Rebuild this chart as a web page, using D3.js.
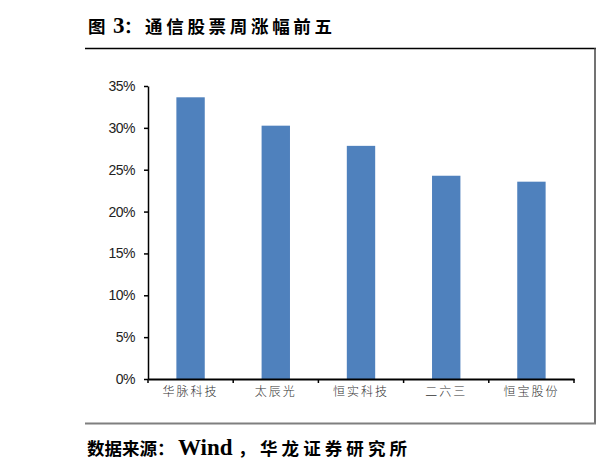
<!DOCTYPE html>
<html><head><meta charset="utf-8">
<script src="https://cdn.jsdelivr.net/npm/d3@7"></script>
<style>html,body{margin:0;padding:0;background:#fff;overflow:hidden}</style>
</head><body>
<svg id="c" width="599" height="472"></svg>
<script>
const categories = ["华脉科技", "太辰光", "恒实科技", "二六三", "恒宝股份"];
const values = [33.65, 30.26, 27.85, 24.28, 23.57];
const yTicks = [0, 5, 10, 15, 20, 25, 30, 35];
const titleParts = [["图", 88, 0], ["3", 113, 0], ["：", 124, 0], ["通信股票周涨幅前五", 145, 187]];
const sourceParts = [["数据来源：", 87, 0], ["Wind", 178, 0], ["，", 238, 0], ["华龙证券研究所", 260, 147]];

const svg = d3.select("#c");
const plot = {left: 148, right: 574, top: 86, bottom: 379};

// frame
svg.append("line").attr("x1", 85).attr("x2", 596).attr("y1", 48.5).attr("y2", 48.5)
  .attr("stroke", "#000").attr("stroke-width", 1.5);
svg.append("line").attr("x1", 595).attr("x2", 595).attr("y1", 48).attr("y2", 424)
  .attr("stroke", "#444").attr("stroke-width", 1.5);
svg.append("line").attr("x1", 85).attr("x2", 596).attr("y1", 423.5).attr("y2", 423.5)
  .attr("stroke", "#7f7f7f").attr("stroke-width", 2);

function richText(parts, yPos) {
  const t = svg.append("text").attr("y", yPos).attr("font-weight", "bold").attr("fill", "#000");
  parts.forEach(([s, xPos, len]) => {
    const latin = /^[A-Za-z0-9]+$/.test(s);
    const ts = t.append("tspan").attr("x", xPos).text(s)
      .attr("font-family", latin ? "'Liberation Serif', serif" : "'Noto Sans CJK SC', sans-serif")
      .attr("font-size", latin ? 23 : 17.5);
    if (len) ts.attr("textLength", len).attr("lengthAdjust", "spacing");
  });
}
richText(titleParts, 33);
richText(sourceParts, 455);

const x = d3.scaleBand().domain(categories).range([plot.left, plot.right]).paddingInner(0.667).paddingOuter(0.333);
const y = d3.scaleLinear().domain([0, 35]).range([plot.bottom, plot.top]);

svg.append("g").selectAll("rect").data(values).join("rect")
  .attr("x", (d, i) => x(categories[i]))
  .attr("width", x.bandwidth())
  .attr("y", d => y(d))
  .attr("height", d => y(0) - y(d))
  .attr("fill", "#4F81BD");

// y axis
const ya = svg.append("g").attr("transform", `translate(${plot.left},0)`)
  .call(d3.axisLeft(y).tickValues(yTicks).tickFormat(d => d + "%").tickSize(4).tickSizeOuter(0));
ya.select(".domain").attr("stroke", "#000").attr("stroke-width", 1.5);
ya.selectAll(".tick line").attr("stroke", "#000").attr("stroke-width", 1.5);
ya.selectAll(".tick text").attr("font-family", "'Liberation Sans', Arial, sans-serif")
  .attr("font-size", 14).attr("fill", "#222").attr("x", -13).style("letter-spacing", "-0.5px");

// x axis
const xb = d3.scaleBand().domain(categories).range([plot.left, plot.right]);
const xa = svg.append("g").attr("transform", `translate(0,${plot.bottom})`)
  .call(d3.axisBottom(xb).tickSize(0).tickSizeOuter(0));
xa.select(".domain").attr("stroke", "#000").attr("stroke-width", 2);
xa.selectAll(".tick text").attr("font-family", "'Noto Sans CJK SC', sans-serif").attr("font-weight", 300)
  .attr("font-size", 12).attr("fill", "#333").attr("dy", "1.2em").style("letter-spacing", "2px");
// category boundary tick marks
const bounds = categories.map(c => xb(c)).concat([plot.right]);
svg.append("g").selectAll("line").data(bounds).join("line")
  .attr("x1", d => d).attr("x2", d => d).attr("y1", plot.bottom).attr("y2", plot.bottom + 4)
  .attr("stroke", "#000").attr("stroke-width", 1.5);
</script>
</body></html>
